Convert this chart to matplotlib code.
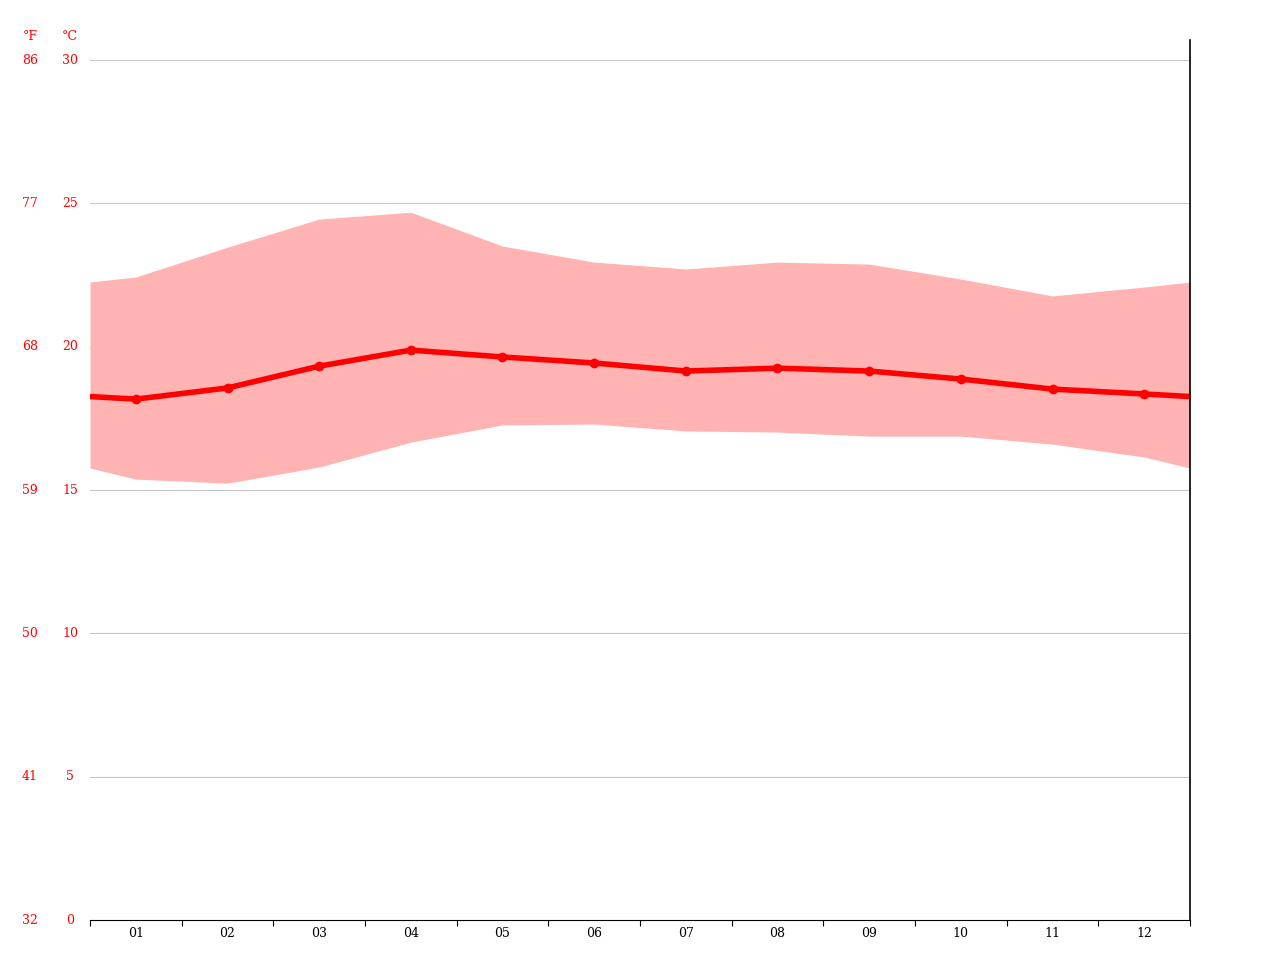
import matplotlib
matplotlib.use("Agg")
import matplotlib.pyplot as plt
import numpy as np

months = ["01","02","03","04","05","06","07","08","09","10","11","12"]
mean_t = [18.17,18.56,19.32,19.88,19.64,19.43,19.15,19.25,19.15,18.87,18.52,18.35]
high_t = [22.43,23.47,24.45,24.69,23.51,22.95,22.71,22.95,22.88,22.36,21.77,22.08]
low_t  = [15.38,15.24,15.80,16.67,17.27,17.30,17.06,17.02,16.88,16.88,16.60,16.15]
c_ticks = [0,5,10,15,20,25,30]
f_ticks = [32,41,50,59,68,77,86]

fig = plt.figure(figsize=(12.8,9.6), dpi=100)
ax = fig.add_axes([90/1280, 40/960, 1100/1280, 860/960])
x = np.arange(1,13)
def wrap(v):
    e = (v[0]+v[-1])/2
    return np.r_[0.5, x, 12.5], np.r_[e, v, e]
xs, hs = wrap(high_t); _, ls = wrap(low_t); _, ms = wrap(mean_t)
ax.fill_between(xs, ls, hs, color="#ffb3b3", lw=0)
ax.plot(xs, ms, color="#ff0000", lw=4, solid_capstyle="butt")
ax.plot(x, mean_t, "o", color="#ff0000", ms=6)
ax.set_xlim(0.5,12.5); ax.set_ylim(0,30)
for c in c_ticks[1:]:
    ax.axhline(c, color="#c8c8c8", lw=0.8, zorder=0)
for s in ["top","left","right"]:
    ax.spines[s].set_visible(False)
ax.spines["bottom"].set_color("black")
ax.set_yticks([])
ax.set_xticks(np.arange(0.5,13,1))
ax.set_xticklabels([])
ax.tick_params(axis="x", length=4, color="black")
ax.set_xticks(x, minor=True)
ax.set_xticklabels(months, minor=True, fontsize=9, family="DejaVu Serif")
ax.tick_params(axis="x", which="minor", length=0, pad=5)
fig.add_artist(plt.Line2D([1190/1280]*2, [40/960, 920/960], color="black", lw=1.2))
for c, f in zip(c_ticks, f_ticks):
    yf = (40 + c/30*860)/960
    fig.text(30/1280, yf, str(f), color="red", fontsize=9, ha="center", va="center", family="DejaVu Serif")
    fig.text(70/1280, yf, str(c), color="red", fontsize=9, ha="center", va="center", family="DejaVu Serif")
fig.text(30/1280, 1-36/960, "°F", color="red", fontsize=9, ha="center", va="center", family="DejaVu Serif")
fig.text(70/1280, 1-36/960, "°C", color="red", fontsize=9, ha="center", va="center", family="DejaVu Serif")
fig.savefig("out.png", dpi=100)
